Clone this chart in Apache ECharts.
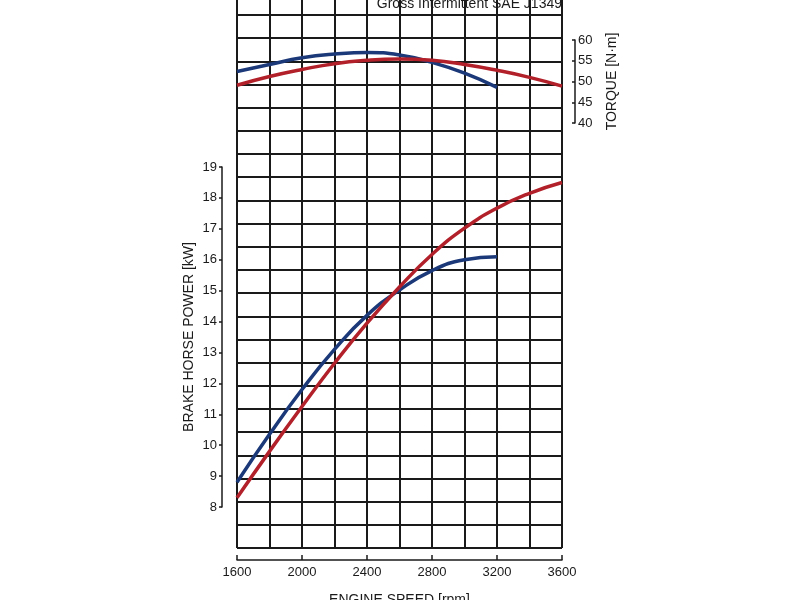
<!DOCTYPE html>
<html><head><meta charset="utf-8">
<script src="https://cdn.jsdelivr.net/npm/echarts@6/dist/echarts.min.js"></script>
<style>html,body{margin:0;padding:0;background:#fff}#c{width:800px;height:600px}</style>
</head><body><div id="c"></div>
<script>
// Engine speed (rpm) sample points
const rpmBlue = [1600, 1800, 2000, 2200, 2400, 2600, 2800, 3000, 3200];
const rpmRed  = [1600, 1800, 2000, 2200, 2400, 2600, 2800, 3000, 3200, 3400, 3600];
// Brake horse power (kW)
const powerBlue = [8.8, 10.35, 11.8, 13.1, 14.2, 15.02, 15.65, 16.0, 16.1];
const powerRed  = [8.3, 9.8, 11.25, 12.65, 13.95, 15.12, 16.17, 17.02, 17.67, 18.15, 18.5];
// Torque (N·m)
const torqueBlue = [52.4, 54.1, 55.7, 56.6, 57.0, 56.4, 54.6, 52.0, 48.6];
const torqueRed  = [49.1, 51.2, 52.9, 54.3, 55.1, 55.4, 55.1, 54.1, 52.7, 51.0, 48.9];
// Axis ranges / ticks
const speedRange = [1600, 3600];
const speedTickStep = 400;
const powerRange = [8, 19];
const torqueRange = [40, 60];
const torqueTickStep = 5;

const titleText = 'Gross Intermittent SAE J1349';
const xName = 'ENGINE SPEED [rpm]';
const powerName = 'BRAKE HORSE POWER [kW]';
const torqueName = 'TORQUE [N·m]';

const FONT = '"Liberation Sans", Arial, Helvetica, sans-serif';
const BLUE = '#1b3878';
const RED = '#b2212a';
const INK = '#1a1a1a';

const pairs = (xs, ys) => xs.map((x, i) => [x, ys[i]]);
const plain = v => String(v);

const chart = echarts.init(document.getElementById('c'), null, {renderer: 'canvas'});
chart.setOption({
  animation: false,
  backgroundColor: '#fff',
  textStyle: {fontFamily: FONT, color: INK},
  grid: [
    {left: 237, top: -8.2, width: 325, height: 556.2, outerBoundsMode: 'none', containLabel: false},
    {left: 237, top: 167, width: 325, height: 340, outerBoundsMode: 'none', containLabel: false},
    {left: 237, top: 40, width: 325, height: 83, outerBoundsMode: 'none', containLabel: false}
  ],
  xAxis: [
    {gridIndex: 0, type: 'value', min: speedRange[0], max: speedRange[1], interval: 200,
     axisLine: {show: false}, axisTick: {show: false}, axisLabel: {show: false},
     splitLine: {show: true, lineStyle: {color: INK, width: 2}}},
    {gridIndex: 0, type: 'value', position: 'bottom', offset: 12,
     min: speedRange[0], max: speedRange[1], interval: speedTickStep,
     axisLine: {show: true, lineStyle: {color: INK, width: 1.5}},
     axisTick: {show: true, inside: true, length: 5, lineStyle: {color: INK, width: 1.5}},
     axisLabel: {show: true, margin: 6, fontSize: 13, color: INK, fontFamily: FONT, formatter: plain},
     splitLine: {show: false},
     name: xName, nameLocation: 'middle', nameGap: 33,
     nameTextStyle: {fontSize: 14, color: INK, fontFamily: FONT}},
    {gridIndex: 1, type: 'value', min: speedRange[0], max: speedRange[1], show: false},
    {gridIndex: 2, type: 'value', min: speedRange[0], max: speedRange[1], show: false}
  ],
  yAxis: [
    {gridIndex: 0, type: 'value', min: 0, max: 24, interval: 1,
     axisLine: {show: false}, axisTick: {show: false}, axisLabel: {show: false},
     splitLine: {show: true, lineStyle: {color: INK, width: 2}}},
    {gridIndex: 1, type: 'value', position: 'left', offset: 15,
     min: powerRange[0], max: powerRange[1], interval: 1,
     axisLine: {show: true, lineStyle: {color: INK, width: 1.5}},
     axisTick: {show: true, inside: false, length: 3, lineStyle: {color: INK, width: 1.5}},
     axisLabel: {show: true, margin: 5, fontSize: 13, color: INK, fontFamily: FONT, formatter: plain},
     splitLine: {show: false},
     name: powerName, nameLocation: 'middle', nameRotate: 90, nameGap: 26,
     nameTextStyle: {fontSize: 14, color: INK, fontFamily: FONT}},
    {gridIndex: 2, type: 'value', position: 'right', offset: 13,
     min: torqueRange[0], max: torqueRange[1], interval: torqueTickStep,
     axisLine: {show: true, lineStyle: {color: INK, width: 1.5}},
     axisTick: {show: true, inside: true, length: 3, lineStyle: {color: INK, width: 1.5}},
     axisLabel: {show: true, margin: 3, fontSize: 13, color: INK, fontFamily: FONT, formatter: plain},
     splitLine: {show: false},
     name: torqueName, nameLocation: 'middle', nameRotate: 90, nameGap: 30,
     nameTextStyle: {fontSize: 14, color: INK, fontFamily: FONT}}
  ],
  graphic: [
    {type: 'text', right: 238, top: -3,
     style: {text: titleText, font: '14px ' + FONT, fill: INK}}
  ],
  series: [
    {type: 'line', name: 'Power A', xAxisIndex: 2, yAxisIndex: 1, data: pairs(rpmBlue, powerBlue),
     smooth: 0.5, showSymbol: false, clip: false, lineStyle: {color: BLUE, width: 3.5}, z: 3},
    {type: 'line', name: 'Power B', xAxisIndex: 2, yAxisIndex: 1, data: pairs(rpmRed, powerRed),
     smooth: 0.5, showSymbol: false, clip: false, lineStyle: {color: RED, width: 3.5}, z: 4},
    {type: 'line', name: 'Torque A', xAxisIndex: 3, yAxisIndex: 2, data: pairs(rpmBlue, torqueBlue),
     smooth: 0.5, showSymbol: false, clip: false, lineStyle: {color: BLUE, width: 3.5}, z: 3},
    {type: 'line', name: 'Torque B', xAxisIndex: 3, yAxisIndex: 2, data: pairs(rpmRed, torqueRed),
     smooth: 0.5, showSymbol: false, clip: false, lineStyle: {color: RED, width: 3.5}, z: 4}
  ]
});
</script>
</body></html>
